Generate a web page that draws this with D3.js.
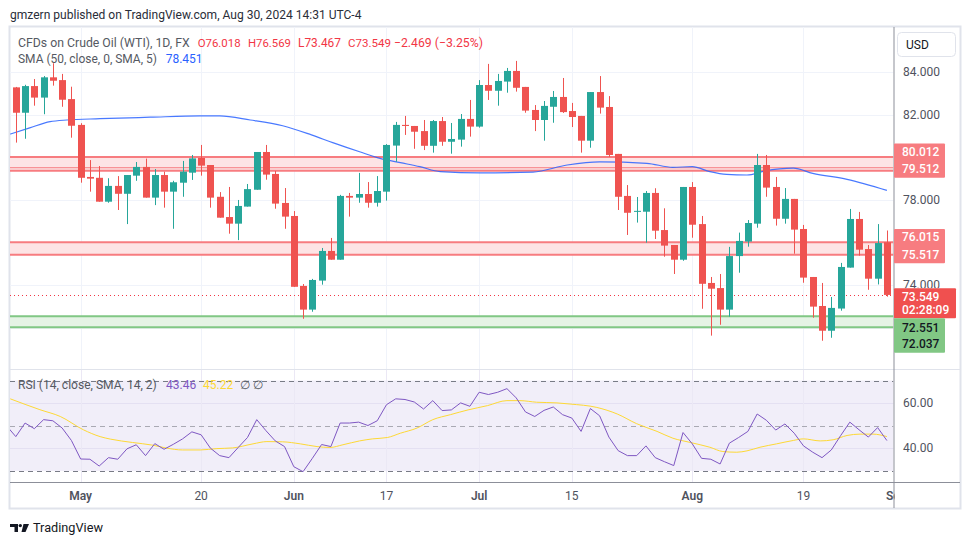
<!DOCTYPE html>
<html><head><meta charset="utf-8">
<script src="https://cdn.jsdelivr.net/npm/d3@7"></script>
<style>body{margin:0;background:#fff}svg{display:block;font-family:Roboto,"Noto Sans",sans-serif}</style>
</head><body><svg id="c" width="970" height="545"></svg>
<script>
// ---------- DATA ----------
const startDate = "2024-04-22"; // first daily candle (weekdays only)
const opens  = [83.28,82.09,83.34,82.80,83.75,83.62,82.73,81.52,79.08,79.04,77.92,78.66,78.29,79.14,79.55,78.11,79.17,78.39,78.81,79.28,
                79.97,79.64,78.15,77.20,76.89,77.69,78.48,80.25,79.22,77.86,77.25,73.97,72.86,74.22,75.61,75.20,78.19,78.11,78.28,77.87,
                78.39,80.55,81.52,81.47,81.23,80.54,81.70,80.73,80.83,81.80,81.44,83.39,83.12,83.55,84.05,83.30,82.22,81.75,82.37,82.83,
                82.17,81.94,80.78,83.06,82.36,80.16,78.19,77.45,77.45,78.33,76.59,75.89,75.20,78.61,76.87,74.11,73.87,72.86,75.37,76.05,
                76.89,79.64,78.61,77.12,78.05,76.64,74.39,73.03,71.87,72.91,74.83,77.11,75.70,74.31,76.018];
const highs  = [83.30,83.40,83.67,83.81,84.41,83.91,83.31,81.60,79.87,79.59,79.02,79.12,79.17,79.78,79.94,79.45,79.33,78.90,79.83,80.11,
                80.58,79.64,78.37,78.61,78.00,78.75,80.25,80.58,79.36,78.56,77.48,74.06,74.30,75.75,76.22,78.24,78.33,79.27,78.84,79.12,
                80.62,81.66,81.94,81.47,81.75,81.75,81.89,81.61,82.03,82.69,83.62,84.38,83.91,84.19,84.52,83.30,82.45,82.64,83.11,83.72,
                82.55,81.94,83.06,83.81,82.87,80.16,78.70,78.14,78.42,78.55,77.61,75.89,78.61,78.84,77.25,74.39,74.53,75.80,76.47,77.06,
                80.16,80.11,79.08,78.56,78.05,76.83,74.39,74.11,73.45,75.05,77.58,77.44,75.89,76.87,76.569];
const lows   = [80.69,80.87,82.42,82.02,83.36,82.37,80.92,78.81,78.39,77.92,77.87,77.53,76.87,78.90,78.11,77.76,77.64,76.65,78.15,78.94,
                79.14,77.64,77.17,76.42,76.12,77.69,78.48,78.95,77.59,76.65,73.93,72.43,72.76,74.03,75.20,75.20,77.22,77.87,77.64,77.69,
                77.97,79.79,81.05,80.40,80.34,80.22,80.54,80.17,80.50,80.97,81.39,82.69,82.42,83.03,83.08,82.09,81.23,80.78,81.62,82.08,
                81.42,80.22,80.45,82.05,80.02,77.53,76.36,76.94,76.00,76.17,75.34,74.53,75.15,76.23,72.90,71.64,72.15,72.53,74.59,75.81,
                76.70,78.15,76.80,76.89,75.48,74.12,72.48,71.40,71.54,72.81,74.83,75.39,73.79,74.04,73.467];
const closes = [82.09,83.34,82.80,83.75,83.59,82.70,81.48,79.04,79.00,77.92,78.66,78.29,79.17,79.55,78.11,79.17,78.39,78.83,79.33,79.95,
                79.61,78.11,77.17,76.89,77.72,78.51,80.25,79.19,77.83,77.22,73.93,72.86,74.25,75.61,75.20,78.19,78.11,78.28,77.87,78.42,
                80.58,81.52,81.47,81.20,80.54,81.70,80.73,80.86,81.80,81.44,83.39,83.12,83.58,84.05,83.26,82.19,81.75,82.41,82.83,82.12,
                81.89,80.78,83.06,82.33,80.11,78.15,77.40,77.49,78.33,76.56,75.86,75.20,78.61,76.84,74.07,73.84,72.86,75.37,76.08,76.92,
                79.64,78.58,77.12,78.05,76.61,74.36,73.00,71.87,72.94,74.86,77.11,75.67,74.31,75.98,73.549];
// SMA(50) read at candle positions (index, value)
const smaIdx = [-0.6,1.5,3.7,5.5,9.1,14.5,19.9,22,25.3,28.8,31.9,34.2,37.1,39.3,41.5,43.6,45.8,50.1,55.8,59.5,63,68.1,70.9,73,74.9,76.7,78.9,80.8,83.9,86,89.7,94];
const smaVal = [81.09,81.38,81.67,81.75,81.81,81.88,81.94,81.94,81.75,81.48,81.05,80.69,80.26,79.95,79.75,79.56,79.33,79.27,79.31,79.64,79.79,79.72,79.53,79.56,79.33,79.20,79.17,79.36,79.49,79.25,78.97,78.45];
// RSI(14), index -1 .. 94
const rsiVals = [50.0,
  45.2,51.2,48.7,52.7,52.2,49.0,43.5,35.3,35.2,32.2,35.9,35.2,39.8,41.6,36.8,42.1,39.6,41.8,44.2,47.3,
  46.0,40.1,36.8,35.9,40.4,44.8,52.7,47.8,43.3,40.8,31.9,29.7,35.6,41.7,40.8,51.2,51.2,51.6,50.1,52.2,
  59.3,61.9,61.6,60.5,57.4,61.1,56.7,57.0,60.1,58.6,64.8,63.8,64.8,66.4,62.3,56.1,54.1,56.8,58.3,54.9,
  53.4,47.5,57.6,54.4,45.0,39.0,36.8,36.8,41.1,35.9,34.1,32.4,47.0,42.0,35.6,35.2,33.1,42.3,44.8,47.5,
  55.2,52.4,48.1,50.8,46.7,41.1,38.3,35.9,39.3,45.6,51.6,48.2,45.0,49.2,43.46];
// RSI-based SMA(14)
const rsiMaIdx = [-0.6,2.6,4.8,7.3,9.1,10.2,12.6,14.8,16.3,18,19.9,21.7,23.4,25.6,27.1,28.8,30.7,32.5,33.9,35.3,37.1,38.5,40.1,41.5,43.3,45,46.9,48.8,50.9,53,54.4,56.2,58.4,59.8,62.7,64.9,67,69.2,70.9,72.8,74.9,76.3,77.8,78.9,80.3,82.1,83.9,85,86.8,88.2,89.7,91.1,92.5,94];
const rsiMaVal = [61.9,57.1,54.1,48.2,45.2,44.1,42.6,41.4,40.1,39.3,39.3,39.9,40.2,42.0,43.0,42.9,42.0,40.8,40.4,41.6,43.3,44.2,44.8,46.7,49.0,52.7,54.9,57.0,58.9,61.1,61.1,60.4,60.1,59.6,58.1,55.2,50.9,47.5,44.5,42.6,40.5,38.6,38.3,38.9,40.5,42.0,43.5,44.2,43.3,43.8,45.7,46.3,46.3,45.22];
const priceGrid = [84,82,80,78,76,74,72];
const priceTickVals = [84,82,78,74];
const priceTickLabels = ["84.000","82.000","78.000","74.000"];
const rsiTickVals = [60,40];
const rsiTickLabels = ["60.00","40.00"];
const rsiBands = [70,50,30];
const timeTickDates = ["2024-05-01","2024-05-20","2024-06-03","2024-06-17","2024-07-01","2024-07-15","2024-08-01","2024-08-19","2024-09-02"];
const timeTickLabels = ["May","20","Jun","17","Jul","15","Aug","19","Sep"];
const timeTickMonth = [true,false,true,false,true,false,true,false,true];
const zoneTop = [80.012,76.015,72.551];
const zoneBottom = [79.37,75.43,72.03];
const zoneKind = ["res","res","sup"];
const extraLines = [79.512];
const lastPrice = 73.549;
const legendOHLC = ["O76.018","H76.569","L73.467","C73.549","\u22122.469 (\u22123.25%)"];
const boxLabels = [
  {a:"80.012", b:"79.512", kind:"res"},
  {a:"76.015", b:"75.517", kind:"res"},
  {a:"73.549", b:"02:28:09", kind:"last"},
  {a:"72.551", b:"72.037", kind:"sup"}];
const boxTops = [80.65, 76.64, 73.86, 72.45];

// ---------- LAYOUT ----------
const svg = d3.select("#c");
const L = 10, R = 893.5, mainTop = 27, mainBot = 369, rsiTop = 370, rsiBot = 482;
const x = d3.scaleLinear().domain([0, 94]).range([15.8, 886.9]);
const y = d3.scaleLinear().domain([84, 74]).range([72, 285.3]);
const yr = d3.scaleLinear().domain([70, 30]).range([380.5, 471]);

const dates = [];
{ let d = d3.timeParse("%Y-%m-%d")(startDate); while (dates.length < 100) { if (d.getDay() !== 0 && d.getDay() !== 6) dates.push(d3.timeFormat("%Y-%m-%d")(d)); d = d3.timeDay.offset(d, 1); } }
const tickIdx = timeTickDates.map(s => dates.indexOf(s));

svg.append("rect").attr("width", 970).attr("height", 545).attr("fill", "#fff");
const defs = svg.append("defs");
defs.append("clipPath").attr("id", "cm").append("rect").attr("x", L).attr("y", mainTop).attr("width", R - L).attr("height", mainBot - mainTop);
defs.append("clipPath").attr("id", "cr").append("rect").attr("x", L).attr("y", rsiTop).attr("width", R - L).attr("height", rsiBot - rsiTop);
defs.append("clipPath").attr("id", "cx").append("rect").attr("x", L).attr("y", rsiBot).attr("width", R - L + 1).attr("height", 30);
defs.append("clipPath").attr("id", "c74").append("rect").attr("x", 895).attr("y", 270).attr("width", 60).attr("height", y(boxTops[2]) - 270);

svg.append("rect").attr("x", 9.5).attr("y", 26.5).attr("width", 951).attr("height", 482).attr("fill", "none").attr("stroke", "#e0e3eb").attr("stroke-width", 2);

const gm = svg.append("g").attr("clip-path", "url(#cm)");
gm.selectAll(".hg").data(priceGrid).join("line").attr("x1", L).attr("x2", R).attr("y1", d => Math.round(y(d)) + 0.5).attr("y2", d => Math.round(y(d)) + 0.5).attr("stroke", "#f0f3fa");
gm.selectAll(".vg").data(tickIdx).join("line").attr("x1", d => Math.round(x(d)) + 0.5).attr("x2", d => Math.round(x(d)) + 0.5)
  .attr("y1", mainTop).attr("y2", mainBot).attr("stroke", "#f0f3fa");

zoneTop.forEach((t, k) => {
  const c = zoneKind[k] === "res" ? "#f77c80" : "#81c784";
  const f = zoneKind[k] === "res" ? "#fde4e5" : "#e5f3e5";
  gm.append("rect").attr("x", L).attr("width", R - L).attr("y", y(t)).attr("height", y(zoneBottom[k]) - y(t)).attr("fill", f);
  [t, zoneBottom[k]].forEach(v => gm.append("line").attr("x1", L).attr("x2", R).attr("y1", y(v)).attr("y2", y(v)).attr("stroke", c).attr("stroke-width", 2));
});
extraLines.forEach(v => gm.append("line").attr("x1", L).attr("x2", R).attr("y1", y(v)).attr("y2", y(v)).attr("stroke", "#f77c80").attr("stroke-width", 1));

gm.append("line").attr("x1", L).attr("x2", R).attr("y1", Math.round(y(lastPrice)) + 0.5).attr("y2", Math.round(y(lastPrice)) + 0.5)
  .attr("stroke", "#f23645").attr("stroke-dasharray", "1,3");

const smaPts = smaIdx.map((d, k) => [x(d), y(smaVal[k])]);
gm.append("path").attr("d", d3.line().curve(d3.curveMonotoneX)(smaPts)).attr("fill", "none").attr("stroke", "#2962ff").attr("stroke-width", 1.2).attr("opacity", 0.85);

const up = "#26a69a", dn = "#ef5350";
const cg = gm.append("g");
opens.forEach((o, i) => {
  const c = closes[i], col = c >= o ? up : dn;
  const cx = Math.round(x(i));
  cg.append("line").attr("x1", cx + 0.5).attr("x2", cx + 0.5).attr("y1", y(highs[i])).attr("y2", y(lows[i])).attr("stroke", col);
  const yt = y(Math.max(o, c)), yb = y(Math.min(o, c));
  cg.append("rect").attr("x", cx - 3).attr("width", 7).attr("y", yt).attr("height", Math.max(1, yb - yt)).attr("fill", col);
});

const gr = svg.append("g").attr("clip-path", "url(#cr)");
gr.append("rect").attr("x", L).attr("width", R - L).attr("y", yr(70)).attr("height", yr(30) - yr(70)).attr("fill", "#f1eef9");
gr.selectAll(".rg").data(rsiTickVals).join("line").attr("x1", L).attr("x2", R).attr("y1", d => Math.round(yr(d)) + 0.5).attr("y2", d => Math.round(yr(d)) + 0.5).attr("stroke", "#e4e0f2");
gr.selectAll(".rv").data(tickIdx).join("line").attr("x1", d => Math.round(x(d)) + 0.5).attr("x2", d => Math.round(x(d)) + 0.5).attr("y1", rsiTop).attr("y2", rsiBot).attr("stroke", "#ebe8f5");
gr.selectAll(".rb").data(rsiBands).join("line").attr("x1", L).attr("x2", R).attr("y1", d => Math.round(yr(d)) + 0.5).attr("y2", d => Math.round(yr(d)) + 0.5)
  .attr("stroke", d => d === 50 ? "#a9a9b3" : "#787b86").attr("stroke-dasharray", "5,4");
gr.append("path").attr("d", d3.line().curve(d3.curveMonotoneX)(rsiMaIdx.map((d, k) => [x(d), yr(rsiMaVal[k])]))).attr("fill", "none").attr("stroke", "#fdd835").attr("stroke-width", 1);
gr.append("path").attr("d", d3.line()(rsiVals.map((v, k) => [x(k - 1), yr(v)]))).attr("fill", "none").attr("stroke", "#7e57c2").attr("stroke-width", 1);

svg.append("line").attr("x1", L).attr("x2", 960).attr("y1", 369.5).attr("y2", 369.5).attr("stroke", "#e0e3eb");
svg.append("line").attr("x1", L).attr("x2", 960).attr("y1", rsiBot + 0.5).attr("y2", rsiBot + 0.5).attr("stroke", "#8c8f99");
svg.append("line").attr("x1", R + 0.5).attr("x2", R + 0.5).attr("y1", 27).attr("y2", 508).attr("stroke", "#8c8f99");

const axc = "#50535e";
svg.selectAll(".pt").data(priceTickVals).join("text").attr("x", 903).attr("y", d => y(d)).attr("dominant-baseline", "central")
  .attr("font-size", 12).attr("fill", axc).attr("clip-path", d => d === 74 ? "url(#c74)" : null).text((d, k) => priceTickLabels[k]);
svg.selectAll(".rt").data(rsiTickVals).join("text").attr("x", 903).attr("y", d => yr(d)).attr("dominant-baseline", "central")
  .attr("font-size", 12).attr("fill", axc).text((d, k) => rsiTickLabels[k]);

boxLabels.forEach((b, k) => {
  const top = y(boxTops[k]);
  const h = b.kind === "last" ? 30 : 34.3;
  const w = b.kind === "last" ? 62 : 51;
  const fill = b.kind === "res" ? "#f77c80" : b.kind === "last" ? "#f0504f" : "#81c784";
  const tc = b.kind === "sup" ? "#131722" : "#fff";
  svg.append("rect").attr("x", 894).attr("y", top).attr("width", w).attr("height", h).attr("rx", 1).attr("fill", fill);
  const d1 = b.kind === "sup" ? 9.4 : 8.4, d2 = b.kind === "last" ? 21.7 : 25.9;
  svg.append("text").attr("x", 902).attr("y", top + d1).attr("dominant-baseline", "central").attr("font-size", 12).attr("font-weight", 500).attr("fill", tc).text(b.a);
  svg.append("text").attr("x", 902).attr("y", top + d2).attr("dominant-baseline", "central").attr("font-size", 12).attr("font-weight", 500).attr("fill", tc).text(b.b);
});

svg.append("rect").attr("x", 897.5).attr("y", 32.5).attr("width", 58).attr("height", 24).attr("rx", 4).attr("fill", "#fff").attr("stroke", "#e0e3eb");
svg.append("text").attr("x", 906).attr("y", 45).attr("dominant-baseline", "central").attr("font-size", 12).attr("fill", "#131722").text("USD");

svg.append("g").attr("clip-path", "url(#cx)").selectAll("text").data(tickIdx).join("text")
  .attr("x", d => x(d)).attr("y", 496).attr("text-anchor", "middle").attr("dominant-baseline", "central")
  .attr("font-size", 12).attr("font-weight", (d, k) => timeTickMonth[k] ? 600 : 400).attr("fill", axc).text((d, k) => timeTickLabels[k]);

function fit(sel, w) { const n = sel.node(); const l = n.getComputedTextLength(); sel.attr("font-size", parseFloat(sel.attr("font-size")) * w / l); return sel; }

fit(svg.append("text").attr("x", 10).attr("y", 15).attr("dominant-baseline", "central").attr("font-size", 13).attr("fill", "#2a2e39")
  .text("gmzern published on TradingView.com, Aug 30, 2024 14:31 UTC-4"), 352);
fit(svg.append("text").attr("x", 18).attr("y", 42.5).attr("dominant-baseline", "central").attr("font-size", 12.5).attr("fill", "#555962")
  .text("CFDs on Crude Oil (WTI), 1D, FX"), 172);
const ohlcX = [197.7, 248, 298, 348, 394], ohlcW = [43, 43, 43, 43, 89];
legendOHLC.forEach((t, k) => fit(svg.append("text").attr("x", ohlcX[k]).attr("y", 42.5).attr("dominant-baseline", "central").attr("font-size", 12.5).attr("fill", "#f23645").text(t), ohlcW[k]));
fit(svg.append("text").attr("x", 18).attr("y", 59).attr("dominant-baseline", "central").attr("font-size", 12.5).attr("fill", "#555962")
  .text("SMA (50, close, 0, SMA, 5)"), 139);
svg.append("text").attr("x", 165.7).attr("y", 59).attr("dominant-baseline", "central").attr("font-size", 12).attr("fill", "#2962ff").text("78.451");

fit(svg.append("text").attr("x", 18).attr("y", 385).attr("dominant-baseline", "central").attr("font-size", 12.5).attr("fill", "#555962")
  .text("RSI (14, close, SMA, 14, 2)"), 139);
svg.append("text").attr("x", 166).attr("y", 385).attr("dominant-baseline", "central").attr("font-size", 12).attr("fill", "#7e57c2").text("43.46");
svg.append("text").attr("x", 203).attr("y", 385).attr("dominant-baseline", "central").attr("font-size", 12).attr("fill", "#fdd835").text("45.22");
svg.append("text").attr("x", 240).attr("y", 385).attr("dominant-baseline", "central").attr("font-size", 12).attr("fill", "#555962").text("\u2205");
svg.append("text").attr("x", 253).attr("y", 385).attr("dominant-baseline", "central").attr("font-size", 12).attr("fill", "#555962").text("\u2205");

const lg = svg.append("g").attr("fill", "#131722");
lg.append("path").attr("d", "M10,524 H18 V532 H14.5 V527 H10 Z");
lg.append("circle").attr("cx", 20.3).attr("cy", 525.6).attr("r", 1.7);
lg.append("path").attr("d", "M23.5,524 H29 L25.5,532 H21.5 Z");
fit(svg.append("text").attr("x", 33).attr("y", 527.5).attr("dominant-baseline", "central").attr("font-size", 14.5).attr("fill", "#131722").text("TradingView"), 70);
</script></body></html>
